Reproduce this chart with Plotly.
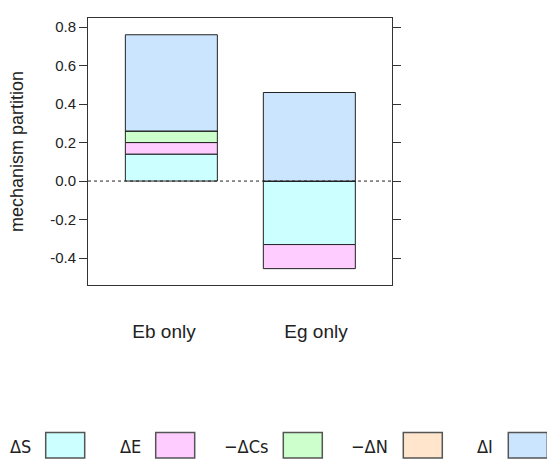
import plotly.graph_objects as go

categories = ["Eb only", "Eg only"]
series_names = ["ΔS", "ΔE", "−ΔCs", "−ΔN", "ΔI"]
dS = [0.14, -0.33]
dE = [0.06, -0.125]
dCs = [0.06, 0.0]
dN = [0.0, 0.0]
dI = [0.50, 0.46]
series_values = [dS, dE, dCs, dN, dI]
colors = ["#CCFFFF", "#FFCCFF", "#CCFFCC", "#FFE5CC", "#CCE5FF"]
ytick_vals = [-0.4, -0.2, 0.0, 0.2, 0.4, 0.6, 0.8]
ytick_text = ["-0.4", "-0.2", "0.0", "0.2", "0.4", "0.6", "0.8"]

W, H = 547, 460
L, R, T, B = 88, 155, 18, 175
pw, ph = W - L - R, H - T - B

def px(x):
    return (x - L) / pw

def py(y):
    return (H - B - y) / ph

fig = go.Figure()
for name, vals, col in zip(series_names, series_values, colors):
    fig.add_trace(go.Bar(
        x=categories, y=vals, name=name, width=2/3,
        marker=dict(color=col, line=dict(color="#222222", width=1)),
        showlegend=False,
    ))

# carrier for the category labels axis
fig.add_trace(go.Scatter(x=categories, y=[0, 0], xaxis="x2", mode="markers",
                         marker=dict(opacity=0), showlegend=False, hoverinfo="skip"))

fig.add_shape(type="line", xref="x domain", yref="y", x0=0, x1=1, y0=0, y1=0,
              line=dict(color="#222222", width=1, dash="dot"))

# custom legend
box_lefts = [45.7, 155.7, 283.3, 403.3, 508.3]
box_w, box_top, box_bot = 39, 432.5, 458
for name, col, bl in zip(series_names, colors, box_lefts):
    fig.add_shape(type="rect", xref="paper", yref="paper",
                  x0=px(bl), x1=px(bl + box_w), y0=py(box_bot), y1=py(box_top),
                  fillcolor=col, line=dict(color="#555555", width=1.5), layer="above")
    fig.add_annotation(xref="paper", yref="paper", x=px(bl - 13), y=py(446),
                       xanchor="right", yanchor="middle", text=name, showarrow=False,
                       font=dict(family="DejaVu Sans Condensed, Liberation Sans Narrow, sans-serif",
                                 size=18, color="#222222"))

axis_font = "Liberation Sans, Arial, Helvetica, sans-serif"
fig.update_layout(
    width=W, height=H,
    margin=dict(l=L, r=R, t=T, b=B),
    paper_bgcolor="white", plot_bgcolor="white",
    barmode="relative",
    font=dict(family=axis_font, color="#222222"),
    xaxis=dict(type="category", range=[-0.604, 1.599], showticklabels=False, ticks="",
               showgrid=False, zeroline=False, showline=True, mirror=True,
               linecolor="#333333", linewidth=1, fixedrange=True),
    xaxis2=dict(type="category", overlaying="x", anchor="y", side="bottom",
                range=[-0.5, 1.5], showgrid=False, zeroline=False, showline=False,
                ticks="", tickfont=dict(size=19, color="#222222"),
                ticklabelstandoff=33),
    yaxis=dict(range=[-0.540, 0.847], tickvals=ytick_vals, ticktext=ytick_text,
               ticks="outside", ticklen=8, tickcolor="#333333", tickwidth=1,
               tickfont=dict(size=15, color="#222222"),
               showgrid=False, zeroline=False, showline=True, mirror="ticks",
               linecolor="#333333", linewidth=1,
               title=dict(text="mechanism partition", font=dict(size=18, color="#222222"),
                          standoff=21)),
)

fig.write_html("out.html", config={"displayModeBar": False},
               post_script="document.body.style.margin='0px';document.body.style.overflow='hidden';")
